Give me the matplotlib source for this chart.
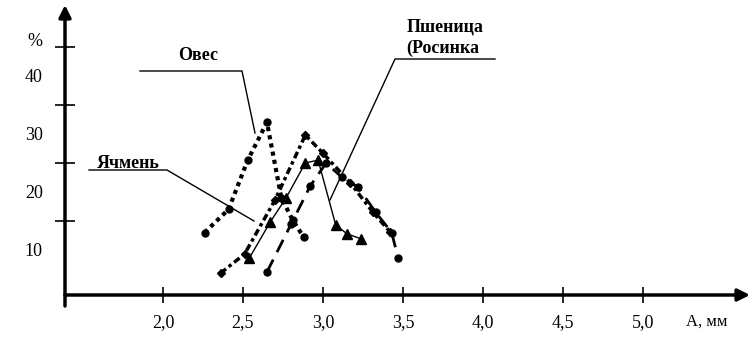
import matplotlib
matplotlib.use("Agg")
import matplotlib.pyplot as plt

# grain size distribution, A (mm) vs %
oats_x = [2.26, 2.41, 2.53, 2.65, 2.74, 2.81, 2.88]
oats_y = [13.0, 17.0, 25.5, 32.0, 19.0, 15.2, 12.2]

barley_x = [2.36, 2.51, 2.70, 2.89, 3.00, 3.17, 3.31, 3.42]
barley_y = [6.0, 9.3, 18.6, 29.8, 26.7, 21.6, 16.6, 13.1]

wheat_x = [2.54, 2.67, 2.77, 2.89, 2.97, 3.08, 3.15, 3.24]
wheat_y = [8.6, 14.8, 19.0, 25.0, 25.5, 14.3, 12.8, 11.9]

rosinka_x = [2.65, 2.80, 2.92, 3.02, 3.12, 3.22, 3.33, 3.43, 3.47]
rosinka_y = [6.2, 14.4, 21.0, 25.0, 22.5, 20.8, 16.5, 13.0, 8.6]

x_ticks = [2.0, 2.5, 3.0, 3.5, 4.0, 4.5, 5.0]
x_labels = ["2,0", "2,5", "3,0", "3,5", "4,0", "4,5", "5,0"]
y_ticks = [15, 25, 35, 45]
y_labels_at = [10, 20, 30, 40]

plt.rcParams['font.family'] = ['Liberation Serif', 'DejaVu Serif']

W, H = 752, 350
fig = plt.figure(figsize=(W / 100, H / 100), dpi=100)
ax = fig.add_axes([65 / W, 1 - 295 / H, 685 / W, 290 / H])
ax.set_xlim(1.3875, 5.67)
ax.set_ylim(2.24, 52.24)

ax.plot(oats_x, oats_y, color='black', lw=3, ls=(0, (1, 1)),
        marker='o', ms=5, label='Овес')
ax.plot(barley_x, barley_y, color='black', lw=2.5, ls=(0, (2, 1, 1, 1)),
        marker='D', ms=4, label='Ячмень')
ax.plot(wheat_x, wheat_y, color='black', lw=1,
        marker='^', ms=7, label='Пшеница')
ax.plot(rosinka_x, rosinka_y, color='black', lw=2, ls=(0, (5, 3)),
        marker='o', ms=5, label='Росинка')

for s in ax.spines.values():
    s.set_visible(False)

# axes with arrows
ax.annotate('', xy=(1.0, 0), xytext=(0, 0), xycoords='axes fraction',
            arrowprops=dict(arrowstyle='-|>', lw=2.5, color='black',
                            mutation_scale=18, shrinkA=0, shrinkB=0))
ax.annotate('', xy=(0, 1.0), xytext=(0, -11 / 290), xycoords='axes fraction',
            arrowprops=dict(arrowstyle='-|>', lw=2.5, color='black',
                            mutation_scale=18, shrinkA=0, shrinkB=0))

ax.set_xticks(x_ticks)
ax.set_xticklabels(x_labels)
ax.tick_params(axis='x', direction='inout', length=12, width=1.2,
               pad=8, labelsize=13)
ax.set_yticks(y_ticks)
ax.set_yticklabels([])
ax.tick_params(axis='y', direction='inout', length=14, width=1.2)
ax.set_yticks(y_labels_at, minor=True)
ax.set_yticklabels([str(v) for v in y_labels_at], minor=True)
ax.tick_params(axis='y', which='minor', length=0, pad=16, labelsize=13)


def px(x, y):
    return x / W, 1 - y / H


def leader(points):
    xs = [p[0] / W for p in points]
    ys = [1 - p[1] / H for p in points]
    fig.add_artist(plt.Line2D(xs, ys, color='black', lw=1,
                              transform=fig.transFigure))


fig.text(*px(35, 42), '%', ha='center', va='center', fontsize=13)
fig.text(*px(707, 322), 'A, мм', ha='center', va='center', fontsize=12)

fig.text(*px(198, 55), 'Овес', ha='center', va='center',
         fontsize=13, fontweight='bold')
leader([(140, 71), (242, 71), (255, 133)])

fig.text(*px(128, 163), 'Ячмень', ha='center', va='center',
         fontsize=13, fontweight='bold')
leader([(89, 170), (167, 170), (254, 221)])

fig.text(*px(445, 27), 'Пшеница', ha='center', va='center',
         fontsize=13, fontweight='bold')
fig.text(*px(443, 48), '(Росинка', ha='center', va='center',
         fontsize=13, fontweight='bold')
leader([(495, 59), (395, 59), (330, 200)])

fig.savefig('out.png', dpi=100)
